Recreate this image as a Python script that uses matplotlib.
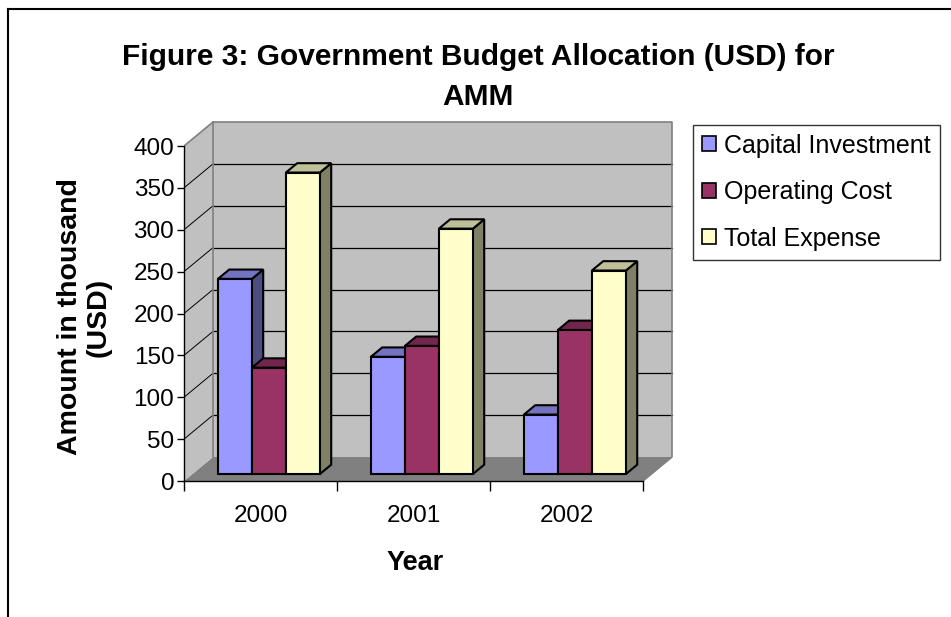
import numpy as np
import matplotlib
matplotlib.use("Agg")
from matplotlib import pyplot as plt
from matplotlib.patches import Polygon, Rectangle
from matplotlib.lines import Line2D

# data
years = ['2000', '2001', '2002']
series = ['Capital Investment', 'Operating Cost', 'Total Expense']
capital = [233, 140, 71]
operating = [127, 153, 172]
total = [360, 293, 243]
yticks = [0, 50, 100, 150, 200, 250, 300, 350, 400]

front_col = ['#9999FF', '#993366', '#FFFFCC']
top_col = ['#7373BF', '#73264D', '#BFBF99']
side_col = ['#4D4D80', '#4D1A33', '#808066']

plt.rcParams['font.family'] = ['Liberation Sans', 'DejaVu Sans']

W, H = 951, 617
fig = plt.figure(figsize=(W / 100, H / 100), dpi=100)

# axes placed so that the front 0 line sits at y=481 px and x=184 px
ymax = 430
xmax = 3.25
ax = fig.add_axes([184 / W, (H - 481) / H, xmax * 153 / W, ymax * 0.8375 / H])
ax.set_xlim(0, xmax)
ax.set_ylim(0, ymax)
for s in ['top', 'right']:
    ax.spines[s].set_visible(False)
ax.patch.set_visible(False)

# oblique depth of the walls (data units)
dxw = 29 / 153
dyw = 24 / 0.8375
ncat = len(years)
top = yticks[-1]

# floor, left wall, back wall
ax.add_patch(Polygon([(0, 0), (ncat, 0), (ncat + dxw, dyw), (dxw, dyw)],
                     closed=True, fc='#808080', ec='none', zorder=1))
ax.add_patch(Polygon([(0, 0), (dxw, dyw), (dxw, top + dyw), (0, top)],
                     closed=True, fc='#C0C0C0', ec='none', zorder=1))
ax.add_patch(Rectangle((dxw, dyw), ncat, top, fc='#C0C0C0', ec='none', zorder=1))

# gridlines
for v in yticks[1:-1]:
    ax.plot([dxw, ncat + dxw], [v + dyw, v + dyw], color='black', lw=0.9, zorder=2)
    ax.plot([0, dxw], [v, v + dyw], color='black', lw=0.7, zorder=2)
edge = '#808080'
ax.plot([0, dxw, ncat + dxw, ncat + dxw, ncat], [top, top + dyw, top + dyw, dyw, 0],
        color=edge, lw=1.2, zorder=2)
ax.plot([dxw, dxw], [dyw, top + dyw], color=edge, lw=1.2, zorder=2)

# bars
f0, f1 = 0.29, 0.68
bx0, by0 = f0 * dxw, f0 * dyw
ddx, ddy = (f1 - f0) * dxw, (f1 - f0) * dyw
bw = 0.2222
gap = (1 - 3 * bw) / 2
vals = [capital, operating, total]
for c in range(ncat):
    for i in range(3):
        x = c + gap + i * bw + bx0
        h = vals[i][c]
        yt = by0 + h
        ax.add_patch(Polygon([(x + bw, by0), (x + bw + ddx, by0 + ddy),
                              (x + bw + ddx, yt + ddy), (x + bw, yt)],
                             closed=True, fc=side_col[i], ec='black', lw=1.5,
                             joinstyle='miter', zorder=3))
        ax.add_patch(Polygon([(x, yt), (x + bw, yt), (x + bw + ddx, yt + ddy),
                              (x + ddx, yt + ddy)],
                             closed=True, fc=top_col[i], ec='black', lw=1.5,
                             joinstyle='miter', zorder=3))
        ax.bar(x, h, bw, bottom=by0, align='edge', color=front_col[i],
               edgecolor='black', lw=1.5, zorder=3)

# axes lines and ticks
ax.spines['left'].set_bounds(0, top)
ax.spines['bottom'].set_bounds(0, ncat)
ax.spines['left'].set_linewidth(1.0)
ax.spines['bottom'].set_linewidth(1.0)
ax.spines['left'].set_zorder(4)
ax.spines['bottom'].set_zorder(4)
ax.set_yticks(yticks)
ax.set_yticklabels([str(v) for v in yticks], fontsize=17.5)
ax.tick_params(axis='y', direction='out', length=5, width=1, pad=2)
ax.set_xticks(range(ncat + 1))
ax.set_xticklabels([])
ax.tick_params(axis='x', which='major', direction='out', length=7, width=1)
ax.set_xticks(np.arange(ncat) + 0.5, minor=True)
ax.set_xticklabels(years, minor=True, fontsize=17.5)
ax.tick_params(axis='x', which='minor', length=0, pad=17)

# titles
fig.text(478 / W, 1 - 57 / H, 'Figure 3: Government Budget Allocation (USD) for',
         ha='center', va='center', fontsize=21.5, fontweight='bold')
fig.text(478 / W, 1 - 97 / H, 'AMM',
         ha='center', va='center', fontsize=21.5, fontweight='bold')
fig.text(70 / W, 1 - 317 / H, 'Amount in thousand', ha='center', va='center',
         rotation=90, fontsize=20.5, fontweight='bold')
fig.text(99 / W, 1 - 317 / H, '(USD)', ha='center', va='center',
         rotation=90, fontsize=20.5, fontweight='bold')
fig.text(415 / W, 1 - 563 / H, 'Year', ha='center', va='center', fontsize=19.5,
         fontweight='bold')

# legend
handles = [Rectangle((0, 0), 1, 1, fc=front_col[i], ec='black', lw=1.2) for i in range(3)]
leg = fig.legend(handles, series, loc='upper left',
                 bbox_to_anchor=(693 / W, 1 - 125 / H), fontsize=18.0,
                 frameon=True, fancybox=False, edgecolor='black', handlelength=0.55,
                 handleheight=0.55, handletextpad=0.35, labelspacing=0.9,
                 borderpad=0.35, borderaxespad=0)
leg.get_frame().set_linewidth(1.0)

# outer border of the chart area
fig.add_artist(Line2D([8 / W, 8 / W], [0, 1 - 9 / H], color='black', lw=1.5))
fig.add_artist(Line2D([8 / W, 1], [1 - 9 / H, 1 - 9 / H], color='black', lw=1.5))

fig.savefig('out.png', dpi=100)
